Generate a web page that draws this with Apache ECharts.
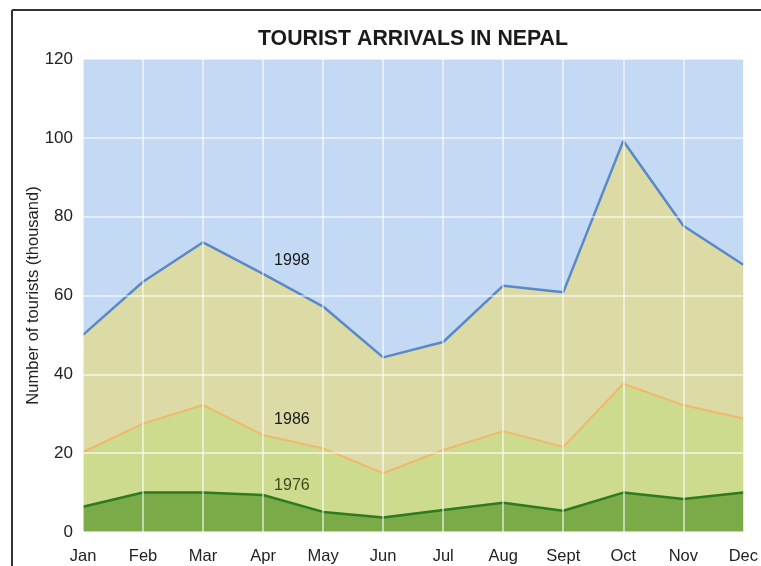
<!DOCTYPE html>
<html>
<head>
<meta charset="utf-8">
<script src="https://cdn.jsdelivr.net/npm/echarts@6/dist/echarts.min.js"></script>
<style>html,body{margin:0;padding:0;background:#fff}#c{width:761px;height:566px}</style>
</head>
<body>
<div id="c"></div>
<script>
var months = ['Jan','Feb','Mar','Apr','May','Jun','Jul','Aug','Sept','Oct','Nov','Dec'];
var y1998 = [50, 63.5, 73.5, 65.5, 57.2, 44.3, 48.2, 62.5, 60.8, 99.2, 77.7, 67.8];
var y1986 = [20.3, 27.5, 32.2, 24.6, 21.2, 14.9, 20.8, 25.6, 21.6, 37.6, 32.2, 28.8];
var y1976 = [6.4, 10.0, 10.0, 9.4, 5.1, 3.7, 5.6, 7.4, 5.4, 10.0, 8.4, 10.0];
var yTicks = [0, 20, 40, 60, 80, 100, 120];
var seriesNames = ['1998', '1986', '1976'];
var labelSpots = [[3.48, 68.9], [3.48, 28.6], [3.48, 11.9]];

var chart = echarts.init(document.getElementById('c'));
var fnt = 'Liberation Sans, Arial, sans-serif';
var frame = [
  {id: 'fl', type: 'line', shape: {x1: 12, y1: 10, x2: 12, y2: 566}, style: {stroke: '#333', lineWidth: 2}},
  {id: 'ft', type: 'line', shape: {x1: 12, y1: 10, x2: 761, y2: 10}, style: {stroke: '#333', lineWidth: 2}}
];
chart.setOption({
  animation: false,
  title: {
    text: 'TOURIST ARRIVALS IN NEPAL',
    left: 408, top: 24, textAlign: 'center',
    textStyle: {fontFamily: fnt, fontSize: 21.3, fontWeight: 'bold', color: '#1a1a1a'}
  },
  grid: {left: 83, right: 16, top: 59, bottom: 34, show: true, backgroundColor: '#c3d9f4', borderWidth: 0},
  xAxis: {
    type: 'category', data: months, boundaryGap: false, z: 5,
    axisLine: {show: false}, axisTick: {show: false},
    axisLabel: {fontFamily: fnt, fontSize: 16.5, color: '#222', margin: 16},
    splitLine: {show: true, lineStyle: {color: 'rgba(255,255,255,0.55)', width: 2}}
  },
  yAxis: {
    type: 'value', min: 0, max: 120, interval: 20, z: 5,
    name: 'Number of tourists (thousand)', nameLocation: 'middle', nameGap: 41,
    nameMoveOverlap: false,
    nameTextStyle: {fontFamily: fnt, fontSize: 16.5, color: '#222'},
    axisLine: {show: false}, axisTick: {show: false},
    axisLabel: {fontFamily: fnt, fontSize: 17, color: '#222', margin: 10,
      formatter: function(v){ return yTicks.indexOf(v) >= 0 ? String(v) : ''; }},
    splitLine: {show: true, lineStyle: {color: 'rgba(255,255,255,0.55)', width: 2}}
  },
  series: [
    {name: seriesNames[0], type: 'line', data: y1998, symbol: 'none', z: 2,
     lineStyle: {color: '#5a88c8', width: 2.5}, areaStyle: {color: '#dcdba6', opacity: 1}},
    {name: seriesNames[1], type: 'line', data: y1986, symbol: 'none', z: 3,
     lineStyle: {color: '#f0b86c', width: 2}, areaStyle: {color: '#cddb8f', opacity: 1}},
    {name: seriesNames[2], type: 'line', data: y1976, symbol: 'none', z: 4,
     lineStyle: {color: '#2d7a1f', width: 2.5}, areaStyle: {color: '#7aab48', opacity: 1}}
  ],
  graphic: frame
});
var texts = seriesNames.map(function(n, i){
  var idx = Math.floor(labelSpots[i][0]);
  var frac = labelSpots[i][0] - idx;
  var p0 = chart.convertToPixel({gridIndex: 0}, [idx, labelSpots[i][1]]);
  var p1 = chart.convertToPixel({gridIndex: 0}, [idx + 1, labelSpots[i][1]]);
  var x = p0[0] + (p1[0] - p0[0]) * frac;
  return {id: 'lbl' + i, type: 'text', x: x, y: p0[1], z: 100,
    style: {text: n, fontFamily: fnt, fontSize: 16, fill: i === 2 ? '#3d4a1a' : '#1a1a1a', align: 'center', verticalAlign: 'middle'}};
});
chart.setOption({graphic: frame.concat(texts)});
</script>
</body>
</html>
